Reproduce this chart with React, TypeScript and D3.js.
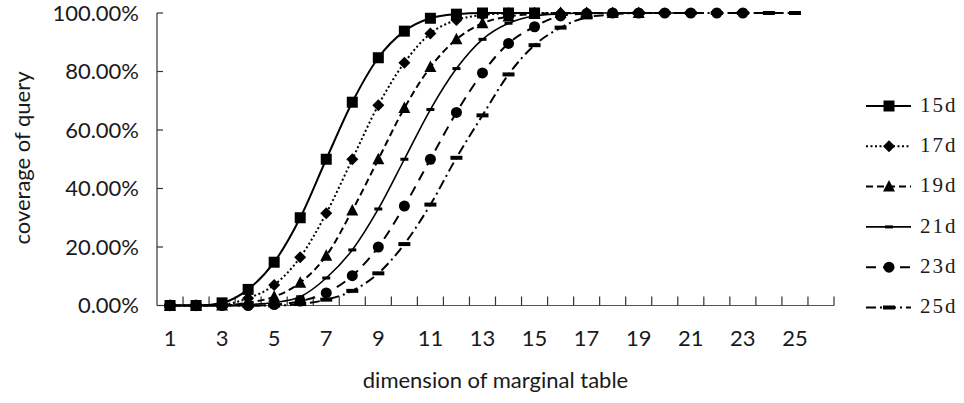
import React from 'react';
import * as d3 from 'd3';

// categories on the x axis (dimension of marginal table)
const categories = d3.range(1, 27).map(String);
const xTickLabels = ['1', '3', '5', '7', '9', '11', '13', '15', '17', '19', '21', '23', '25'];
const yTicks = [0, 0.2, 0.4, 0.6, 0.8, 1.0];

// coverage (%) per series, starting at dimension 1
const d15 = [0, 0, 0.9, 5.5, 14.8, 30, 50, 69.5, 84.7, 93.8, 98.2, 99.6, 100, 100, 100];
const d17 = [0, 0, 0.3, 2.5, 7, 16.5, 31.5, 50, 68.5, 83, 93, 97.6, 99.3, 99.9, 100, 100, 100];
const d19 = [0, 0, 0, 1, 3, 7.8, 17, 32.5, 50, 67.5, 81.5, 91, 96.5, 98.8, 99.7, 100, 100, 100, 100];
const d21 = [0, 0, 0, 0.3, 1, 3, 9.4, 19, 33, 50, 67, 81, 91, 96.5, 99, 99.7, 100, 100, 100, 100, 100];
const d23 = [0, 0, 0, 0, 0.3, 1.5, 4.3, 10.2, 20, 34, 50, 66, 79.5, 89.6, 95.3, 99, 99.8, 100, 100, 100, 100, 100, 100];
const d25 = [0, 0, 0, 0, 0, 0.5, 2, 5, 11, 21, 34.5, 50.5, 65, 79, 89, 95, 98.5, 99.5, 100, 100, 100, 100, 100, 100, 100];

const seriesNames = ['15d', '17d', '19d', '21d', '23d', '25d'];
const seriesValues = [d15, d17, d19, d21, d23, d25];
const markerTypes = ['square', 'diamond', 'triangle', 'smallbar', 'circle', 'bar'];
const dashes = ['none', '2 2.5', '7 4', 'none', '10 7', '10 4 2 4'];
const widths = [2, 2, 2, 1.6, 2, 2];

const W = 964;
const H = 403;
const plot = { left: 157, right: 834, top: 13, bottom: 305.5 };

function Marker({ type, x, y }: { type: string; x: number; y: number }) {
  const fill = '#000';
  switch (type) {
    case 'square':
      return <rect x={x - 5.5} y={y - 5.5} width={11} height={11} fill={fill} />;
    case 'diamond':
      return <path d={`M${x},${y - 6}L${x + 6},${y}L${x},${y + 6}L${x - 6},${y}Z`} fill={fill} />;
    case 'triangle':
      return <path d={`M${x},${y - 6.5}L${x + 6},${y + 5}L${x - 6},${y + 5}Z`} fill={fill} />;
    case 'circle':
      return <circle cx={x} cy={y} r={5.5} fill={fill} />;
    case 'smallbar':
      return <rect x={x - 4} y={y - 1.5} width={8} height={3} fill={fill} />;
    case 'bar':
      return <rect x={x - 6} y={y - 2} width={12} height={4} fill={fill} />;
    default:
      return null;
  }
}

export default function App() {
  const x = d3.scaleBand().domain(categories).range([plot.left, plot.right]);
  const y = d3.scaleLinear().domain([0, 1]).range([plot.bottom, plot.top]);
  const cx = (c: string) => (x(c) as number) + x.bandwidth() / 2;

  const line = d3
    .line<number>()
    .x((_, i) => cx(categories[i]))
    .y((d) => y(d / 100))
    .curve(d3.curveMonotoneX);

  const fmt = d3.format('.2%');
  const tickFont = 'Lato, "Open Sans", sans-serif';

  return (
    <svg width={W} height={H} style={{ position: 'absolute', left: 0, top: 0, background: '#fff' }}>
      {/* axes */}
      <line x1={plot.left} x2={plot.left} y1={plot.top} y2={plot.bottom} stroke="#333" strokeWidth={1.2} />
      <line x1={plot.left} x2={plot.right} y1={plot.bottom} y2={plot.bottom} stroke="#7a4535" strokeWidth={1.2} />
      {yTicks.map((t) => (
        <g key={t}>
          <line x1={plot.left} x2={plot.left + 6} y1={y(t)} y2={y(t)} stroke="#333" strokeWidth={1.2} />
          <text x={139} y={y(t) + 2} textAnchor="end" dominantBaseline="middle" fontFamily={tickFont} fontSize={22} fill="#1a1a1a">
            {fmt(t)}
          </text>
        </g>
      ))}
      {categories.map((c) => (
        <line key={c} x1={(x(c) as number) + x.bandwidth()} x2={(x(c) as number) + x.bandwidth()} y1={plot.bottom} y2={plot.bottom - 9} stroke="#333" strokeWidth={1.2} />
      ))}
      {xTickLabels.map((c) => (
        <text key={c} x={cx(c)} y={340} textAnchor="middle" dominantBaseline="middle" fontFamily={tickFont} fontSize={22} fill="#1a1a1a">
          {c}
        </text>
      ))}
      <text x={(plot.left + plot.right) / 2} y={382} textAnchor="middle" dominantBaseline="middle" fontFamily={tickFont} fontSize={22} fill="#1a1a1a">
        dimension of marginal table
      </text>
      <text transform={`translate(24,158) rotate(-90)`} textAnchor="middle" dominantBaseline="middle" fontFamily={tickFont} fontSize={22} fill="#1a1a1a">
        coverage of query
      </text>

      {/* series */}
      {seriesValues.map((vals, s) => (
        <g key={seriesNames[s]}>
          <path d={line(vals) || ''} fill="none" stroke="#000" strokeWidth={widths[s]} strokeDasharray={dashes[s]} strokeLinecap="butt" />
          {vals.map((v, i) => (
            <Marker key={i} type={markerTypes[s]} x={cx(categories[i])} y={y(v / 100)} />
          ))}
        </g>
      ))}

      {/* legend */}
      {seriesNames.map((name, s) => {
        const ly = 106 + s * 40.3;
        return (
          <g key={name}>
            <line x1={866} x2={911} y1={ly} y2={ly} stroke="#000" strokeWidth={widths[s]} strokeDasharray={dashes[s]} />
            <Marker type={markerTypes[s]} x={889} y={ly} />
            <text x={920} y={ly + 1} dominantBaseline="middle" fontFamily='"Liberation Serif", "DejaVu Serif", serif' fontSize={21} letterSpacing={2} fill="#1a1a1a">
              {name}
            </text>
          </g>
        );
      })}
    </svg>
  );
}
